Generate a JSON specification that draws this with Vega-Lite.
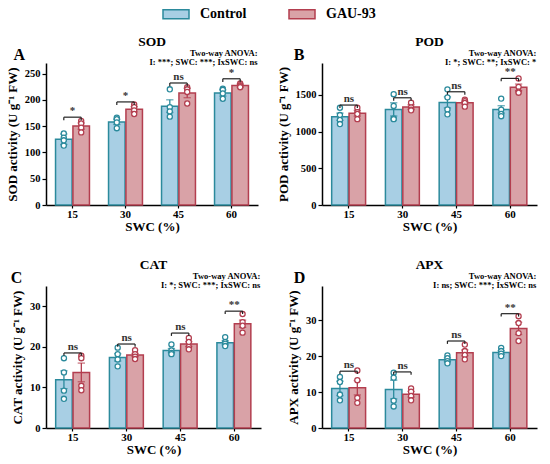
{
  "$schema": "https://vega.github.io/schema/vega-lite/v6.json",
  "padding": {"left": 6, "top": 0, "right": 4, "bottom": 4},
  "columns": 2,
  "spacing": {"row": 24, "column": 15},
  "datasets": {
    "sumA": [
      {"swc": 15, "g": "Control", "mean": 125, "lo": 115, "hi": 135},
      {"swc": 15, "g": "GAU-93", "mean": 150, "lo": 144, "hi": 156},
      {"swc": 30, "g": "Control", "mean": 158, "lo": 153, "hi": 163},
      {"swc": 30, "g": "GAU-93", "mean": 182, "lo": 177, "hi": 187},
      {"swc": 45, "g": "Control", "mean": 188, "lo": 176, "hi": 200},
      {"swc": 45, "g": "GAU-93", "mean": 213, "lo": 204, "hi": 222},
      {"swc": 60, "g": "Control", "mean": 213, "lo": 207, "hi": 219},
      {"swc": 60, "g": "GAU-93", "mean": 227, "lo": 224, "hi": 230}
    ],
    "sumB": [
      {"swc": 15, "g": "Control", "mean": 1203, "lo": 1153, "hi": 1253},
      {"swc": 15, "g": "GAU-93", "mean": 1250, "lo": 1210, "hi": 1290},
      {"swc": 30, "g": "Control", "mean": 1303, "lo": 1213, "hi": 1393},
      {"swc": 30, "g": "GAU-93", "mean": 1335, "lo": 1305, "hi": 1365},
      {"swc": 45, "g": "Control", "mean": 1398, "lo": 1323, "hi": 1473},
      {"swc": 45, "g": "GAU-93", "mean": 1393, "lo": 1373, "hi": 1413},
      {"swc": 60, "g": "Control", "mean": 1303, "lo": 1253, "hi": 1353},
      {"swc": 60, "g": "GAU-93", "mean": 1603, "lo": 1558, "hi": 1648}
    ],
    "sumC": [
      {"swc": 15, "g": "Control", "mean": 11.9, "lo": 9.7, "hi": 14.1},
      {"swc": 15, "g": "GAU-93", "mean": 13.7, "lo": 11.4, "hi": 16.0},
      {"swc": 30, "g": "Control", "mean": 17.4, "lo": 16.5, "hi": 18.3},
      {"swc": 30, "g": "GAU-93", "mean": 18.0, "lo": 17.6, "hi": 18.4},
      {"swc": 45, "g": "Control", "mean": 19.1, "lo": 18.6, "hi": 19.6},
      {"swc": 45, "g": "GAU-93", "mean": 20.7, "lo": 20.1, "hi": 21.3},
      {"swc": 60, "g": "Control", "mean": 21.0, "lo": 20.5, "hi": 21.5},
      {"swc": 60, "g": "GAU-93", "mean": 25.7, "lo": 24.8, "hi": 26.6}
    ],
    "sumD": [
      {"swc": 15, "g": "Control", "mean": 11.0, "lo": 9.0, "hi": 13.0},
      {"swc": 15, "g": "GAU-93", "mean": 11.2, "lo": 9.2, "hi": 13.2},
      {"swc": 30, "g": "Control", "mean": 10.7, "lo": 8.1, "hi": 13.3},
      {"swc": 30, "g": "GAU-93", "mean": 9.4, "lo": 8.6, "hi": 10.2},
      {"swc": 45, "g": "Control", "mean": 19.0, "lo": 18.5, "hi": 19.5},
      {"swc": 45, "g": "GAU-93", "mean": 20.9, "lo": 20.1, "hi": 21.7},
      {"swc": 60, "g": "Control", "mean": 21.0, "lo": 20.5, "hi": 21.5},
      {"swc": 60, "g": "GAU-93", "mean": 27.7, "lo": 26.0, "hi": 29.4}
    ],
    "ptA": [
      {"swc": 15, "g": "Control", "v": 136}, {"swc": 15, "g": "Control", "v": 113}, {"swc": 15, "g": "Control", "v": 128}, {"swc": 15, "g": "Control", "v": 123},
      {"swc": 15, "g": "GAU-93", "v": 160}, {"swc": 15, "g": "GAU-93", "v": 155}, {"swc": 15, "g": "GAU-93", "v": 147}, {"swc": 15, "g": "GAU-93", "v": 138},
      {"swc": 30, "g": "Control", "v": 166}, {"swc": 30, "g": "Control", "v": 163}, {"swc": 30, "g": "Control", "v": 157}, {"swc": 30, "g": "Control", "v": 146},
      {"swc": 30, "g": "GAU-93", "v": 191}, {"swc": 30, "g": "GAU-93", "v": 186}, {"swc": 30, "g": "GAU-93", "v": 180}, {"swc": 30, "g": "GAU-93", "v": 173},
      {"swc": 45, "g": "Control", "v": 220}, {"swc": 45, "g": "Control", "v": 186}, {"swc": 45, "g": "Control", "v": 178}, {"swc": 45, "g": "Control", "v": 168},
      {"swc": 45, "g": "GAU-93", "v": 224}, {"swc": 45, "g": "GAU-93", "v": 220}, {"swc": 45, "g": "GAU-93", "v": 215}, {"swc": 45, "g": "GAU-93", "v": 193},
      {"swc": 60, "g": "Control", "v": 221}, {"swc": 60, "g": "Control", "v": 219}, {"swc": 60, "g": "Control", "v": 212}, {"swc": 60, "g": "Control", "v": 202},
      {"swc": 60, "g": "GAU-93", "v": 231}, {"swc": 60, "g": "GAU-93", "v": 228}, {"swc": 60, "g": "GAU-93", "v": 226}, {"swc": 60, "g": "GAU-93", "v": 224}
    ],
    "ptB": [
      {"swc": 15, "g": "Control", "v": 1325}, {"swc": 15, "g": "Control", "v": 1226}, {"swc": 15, "g": "Control", "v": 1158}, {"swc": 15, "g": "Control", "v": 1103},
      {"swc": 15, "g": "GAU-93", "v": 1325}, {"swc": 15, "g": "GAU-93", "v": 1265}, {"swc": 15, "g": "GAU-93", "v": 1240}, {"swc": 15, "g": "GAU-93", "v": 1170},
      {"swc": 30, "g": "Control", "v": 1510}, {"swc": 30, "g": "Control", "v": 1350}, {"swc": 30, "g": "Control", "v": 1180}, {"swc": 30, "g": "Control", "v": 1170},
      {"swc": 30, "g": "GAU-93", "v": 1395}, {"swc": 30, "g": "GAU-93", "v": 1330}, {"swc": 30, "g": "GAU-93", "v": 1300}, {"swc": 30, "g": "GAU-93", "v": 1290},
      {"swc": 45, "g": "Control", "v": 1576}, {"swc": 45, "g": "Control", "v": 1467}, {"swc": 45, "g": "Control", "v": 1303}, {"swc": 45, "g": "Control", "v": 1235},
      {"swc": 45, "g": "GAU-93", "v": 1435}, {"swc": 45, "g": "GAU-93", "v": 1415}, {"swc": 45, "g": "GAU-93", "v": 1390}, {"swc": 45, "g": "GAU-93", "v": 1340},
      {"swc": 60, "g": "Control", "v": 1450}, {"swc": 60, "g": "Control", "v": 1300}, {"swc": 60, "g": "Control", "v": 1240}, {"swc": 60, "g": "Control", "v": 1210},
      {"swc": 60, "g": "GAU-93", "v": 1725}, {"swc": 60, "g": "GAU-93", "v": 1610}, {"swc": 60, "g": "GAU-93", "v": 1545}, {"swc": 60, "g": "GAU-93", "v": 1530}
    ],
    "ptC": [
      {"swc": 15, "g": "Control", "v": 17.2}, {"swc": 15, "g": "Control", "v": 13.7}, {"swc": 15, "g": "Control", "v": 9.2}, {"swc": 15, "g": "Control", "v": 7.2},
      {"swc": 15, "g": "GAU-93", "v": 17.8}, {"swc": 15, "g": "GAU-93", "v": 17.2}, {"swc": 15, "g": "GAU-93", "v": 10.4}, {"swc": 15, "g": "GAU-93", "v": 9.3},
      {"swc": 30, "g": "Control", "v": 19.8}, {"swc": 30, "g": "Control", "v": 18.2}, {"swc": 30, "g": "Control", "v": 16.9}, {"swc": 30, "g": "Control", "v": 15.2},
      {"swc": 30, "g": "GAU-93", "v": 19.2}, {"swc": 30, "g": "GAU-93", "v": 18.2}, {"swc": 30, "g": "GAU-93", "v": 17.6}, {"swc": 30, "g": "GAU-93", "v": 17.0},
      {"swc": 45, "g": "Control", "v": 20.6}, {"swc": 45, "g": "Control", "v": 19.1}, {"swc": 45, "g": "Control", "v": 18.5}, {"swc": 45, "g": "Control", "v": 18.2},
      {"swc": 45, "g": "GAU-93", "v": 22.2}, {"swc": 45, "g": "GAU-93", "v": 21.2}, {"swc": 45, "g": "GAU-93", "v": 20.0}, {"swc": 45, "g": "GAU-93", "v": 19.4},
      {"swc": 60, "g": "Control", "v": 22.4}, {"swc": 60, "g": "Control", "v": 21.2}, {"swc": 60, "g": "Control", "v": 20.8}, {"swc": 60, "g": "Control", "v": 20.2},
      {"swc": 60, "g": "GAU-93", "v": 28.1}, {"swc": 60, "g": "GAU-93", "v": 26.1}, {"swc": 60, "g": "GAU-93", "v": 25.2}, {"swc": 60, "g": "GAU-93", "v": 23.5}
    ],
    "ptD": [
      {"swc": 15, "g": "Control", "v": 14.2}, {"swc": 15, "g": "Control", "v": 12.8}, {"swc": 15, "g": "Control", "v": 9.3}, {"swc": 15, "g": "Control", "v": 7.7},
      {"swc": 15, "g": "GAU-93", "v": 16.0}, {"swc": 15, "g": "GAU-93", "v": 13.3}, {"swc": 15, "g": "GAU-93", "v": 8.4}, {"swc": 15, "g": "GAU-93", "v": 7.0},
      {"swc": 30, "g": "Control", "v": 15.4}, {"swc": 30, "g": "Control", "v": 14.0}, {"swc": 30, "g": "Control", "v": 7.6}, {"swc": 30, "g": "Control", "v": 6.0},
      {"swc": 30, "g": "GAU-93", "v": 11.0}, {"swc": 30, "g": "GAU-93", "v": 10.1}, {"swc": 30, "g": "GAU-93", "v": 8.9}, {"swc": 30, "g": "GAU-93", "v": 7.7},
      {"swc": 45, "g": "Control", "v": 20.2}, {"swc": 45, "g": "Control", "v": 19.4}, {"swc": 45, "g": "Control", "v": 18.6}, {"swc": 45, "g": "Control", "v": 18.0},
      {"swc": 45, "g": "GAU-93", "v": 23.2}, {"swc": 45, "g": "GAU-93", "v": 21.4}, {"swc": 45, "g": "GAU-93", "v": 20.3}, {"swc": 45, "g": "GAU-93", "v": 19.1},
      {"swc": 60, "g": "Control", "v": 22.3}, {"swc": 60, "g": "Control", "v": 21.4}, {"swc": 60, "g": "Control", "v": 20.7}, {"swc": 60, "g": "Control", "v": 20.0},
      {"swc": 60, "g": "GAU-93", "v": 31.1}, {"swc": 60, "g": "GAU-93", "v": 29.2}, {"swc": 60, "g": "GAU-93", "v": 26.4}, {"swc": 60, "g": "GAU-93", "v": 24.2}
    ],
    "brA": [
      {"swc": 15, "g": "Control", "top": 167, "low": 161, "lab": "*"}, {"swc": 15, "g": "GAU-93", "top": 167, "low": 161, "lab": "*"},
      {"swc": 30, "g": "Control", "top": 196, "low": 190, "lab": "*"}, {"swc": 30, "g": "GAU-93", "top": 196, "low": 190, "lab": "*"},
      {"swc": 45, "g": "Control", "top": 232, "low": 226, "lab": "ns"}, {"swc": 45, "g": "GAU-93", "top": 232, "low": 226, "lab": "ns"},
      {"swc": 60, "g": "Control", "top": 240, "low": 234, "lab": "*"}, {"swc": 60, "g": "GAU-93", "top": 240, "low": 234, "lab": "*"}
    ],
    "brB": [
      {"swc": 15, "g": "Control", "top": 1362, "low": 1322, "lab": "ns"}, {"swc": 15, "g": "GAU-93", "top": 1362, "low": 1322, "lab": "ns"},
      {"swc": 30, "g": "Control", "top": 1461, "low": 1421, "lab": "ns"}, {"swc": 30, "g": "GAU-93", "top": 1461, "low": 1421, "lab": "ns"},
      {"swc": 45, "g": "Control", "top": 1543, "low": 1503, "lab": "ns"}, {"swc": 45, "g": "GAU-93", "top": 1543, "low": 1503, "lab": "ns"},
      {"swc": 60, "g": "Control", "top": 1725, "low": 1685, "lab": "**"}, {"swc": 60, "g": "GAU-93", "top": 1725, "low": 1685, "lab": "**"}
    ],
    "brC": [
      {"swc": 15, "g": "Control", "top": 18.5, "low": 17.8, "lab": "ns"}, {"swc": 15, "g": "GAU-93", "top": 18.5, "low": 17.8, "lab": "ns"},
      {"swc": 30, "g": "Control", "top": 20.7, "low": 20.0, "lab": "ns"}, {"swc": 30, "g": "GAU-93", "top": 20.7, "low": 20.0, "lab": "ns"},
      {"swc": 45, "g": "Control", "top": 23.4, "low": 22.7, "lab": "ns"}, {"swc": 45, "g": "GAU-93", "top": 23.4, "low": 22.7, "lab": "ns"},
      {"swc": 60, "g": "Control", "top": 28.8, "low": 28.1, "lab": "**"}, {"swc": 60, "g": "GAU-93", "top": 28.8, "low": 28.1, "lab": "**"}
    ],
    "brD": [
      {"swc": 15, "g": "Control", "top": 15.8, "low": 15.0, "lab": "ns"}, {"swc": 15, "g": "GAU-93", "top": 15.8, "low": 15.0, "lab": "ns"},
      {"swc": 30, "g": "Control", "top": 15.6, "low": 14.8, "lab": "ns"}, {"swc": 30, "g": "GAU-93", "top": 15.6, "low": 14.8, "lab": "ns"},
      {"swc": 45, "g": "Control", "top": 24.2, "low": 23.4, "lab": "ns"}, {"swc": 45, "g": "GAU-93", "top": 24.2, "low": 23.4, "lab": "ns"},
      {"swc": 60, "g": "Control", "top": 31.8, "low": 31.0, "lab": "**"}, {"swc": 60, "g": "GAU-93", "top": 31.8, "low": 31.0, "lab": "**"}
    ]
  },
  "concat": [
    {
      "title": "SOD",
      "width": 212, "height": 142,
      "encoding": {"x": {"field": "swc", "type": "ordinal", "scale": {"domain": [15, 30, 45, 60], "paddingInner": 0.36, "paddingOuter": 0.18}, "axis": {"title": "SWC (%)"}}},
      "layer": [
        {"data": {"name": "sumA"}, "mark": {"type": "bar", "strokeWidth": 1.5},
         "encoding": {
           "xOffset": {"field": "g", "scale": {"domain": ["Control", "GAU-93"], "paddingInner": 0.05}},
           "y": {"field": "mean", "type": "quantitative", "scale": {"domain": [0, 270], "nice": false}, "axis": {"title": "SOD activity (U g⁻¹ FW)", "values": [0, 50, 100, 150, 200, 250], "format": "d"}},
           "fill": {"field": "g", "type": "nominal", "scale": {"domain": ["Control", "GAU-93"], "range": ["#a8cfe4", "#d9a2a7"]}, "legend": {"title": null, "orient": "none", "direction": "horizontal", "legendX": 116, "legendY": -63, "symbolType": "M-1,-0.35H1V0.35H-1Z", "symbolSize": 676, "symbolStrokeWidth": 1.5, "labelFontSize": 14, "labelFontWeight": "bold", "labelFont": "Liberation Serif", "labelColor": "#000", "labelOffset": 10, "columnPadding": 39}},
           "stroke": {"field": "g", "type": "nominal", "scale": {"domain": ["Control", "GAU-93"], "range": ["#2b8a9c", "#b33e4f"]}, "legend": {"title": null, "orient": "none", "direction": "horizontal", "legendX": 116, "legendY": -63, "symbolType": "M-1,-0.35H1V0.35H-1Z", "symbolSize": 676, "symbolStrokeWidth": 1.5, "labelFontSize": 14, "labelFontWeight": "bold", "labelFont": "Liberation Serif", "labelColor": "#000", "labelOffset": 10, "columnPadding": 39}}
         }},
        {"data": {"name": "sumA"}, "mark": {"type": "rule", "strokeWidth": 1.3},
         "encoding": {"xOffset": {"field": "g"}, "y": {"field": "lo", "type": "quantitative", "axis": {"title": "SOD activity (U g⁻¹ FW)", "values": [0, 50, 100, 150, 200, 250], "format": "d"}}, "y2": {"field": "hi"}, "stroke": {"field": "g", "type": "nominal"}}},
        {"data": {"name": "sumA"}, "mark": {"type": "tick", "filled": false, "thickness": 0.01, "strokeWidth": 1.3, "size": 6},
         "encoding": {"xOffset": {"field": "g"}, "y": {"field": "hi", "type": "quantitative", "axis": {"title": "SOD activity (U g⁻¹ FW)", "values": [0, 50, 100, 150, 200, 250], "format": "d"}}, "stroke": {"field": "g", "type": "nominal"}}},
        {"data": {"name": "sumA"}, "mark": {"type": "tick", "filled": false, "thickness": 0.01, "strokeWidth": 1.3, "size": 6},
         "encoding": {"xOffset": {"field": "g"}, "y": {"field": "lo", "type": "quantitative", "axis": {"title": "SOD activity (U g⁻¹ FW)", "values": [0, 50, 100, 150, 200, 250], "format": "d"}}, "stroke": {"field": "g", "type": "nominal"}}},
        {"data": {"name": "ptA"}, "mark": {"type": "circle", "fill": "white", "size": 26, "strokeWidth": 1.3, "opacity": 1},
         "encoding": {"xOffset": {"field": "g"}, "y": {"field": "v", "type": "quantitative", "axis": {"title": "SOD activity (U g⁻¹ FW)", "values": [0, 50, 100, 150, 200, 250], "format": "d"}}, "stroke": {"field": "g", "type": "nominal"}}},
        {"data": {"name": "brA"}, "mark": {"type": "line", "color": "#222", "strokeWidth": 1.2},
         "encoding": {"xOffset": {"field": "g"}, "y": {"field": "top", "type": "quantitative", "axis": {"title": "SOD activity (U g⁻¹ FW)", "values": [0, 50, 100, 150, 200, 250], "format": "d"}}, "detail": {"field": "swc"}}},
        {"data": {"name": "brA"}, "mark": {"type": "rule", "color": "#222", "strokeWidth": 1.2},
         "encoding": {"xOffset": {"field": "g"}, "y": {"field": "top", "type": "quantitative", "axis": {"title": "SOD activity (U g⁻¹ FW)", "values": [0, 50, 100, 150, 200, 250], "format": "d"}}, "y2": {"field": "low"}}},
        {"data": {"name": "brA"}, "transform": [{"filter": "datum.g === 'Control'"}], "mark": {"type": "text", "baseline": "bottom", "dy": -1, "fontSize": 11, "fontWeight": "bold", "color": "#333"},
         "encoding": {"y": {"field": "top", "type": "quantitative", "axis": {"title": "SOD activity (U g⁻¹ FW)", "values": [0, 50, 100, 150, 200, 250], "format": "d"}}, "text": {"field": "lab"}}},
        {"data": {"values": [{}]}, "mark": {"type": "text", "text": "A", "align": "left", "baseline": "bottom", "fontSize": 16, "fontWeight": "bold", "color": "#000", "dx": -42, "dy": 0},
         "encoding": {"x": {"datum": 15, "bandPosition": 0}, "y": {"datum": 270, "axis": {"title": "SOD activity (U g⁻¹ FW)", "values": [0, 50, 100, 150, 200, 250], "format": "d"}}}},
        {"data": {"values": [{}]}, "mark": {"type": "text", "text": ["Two-way ANOVA:", "I: ***; SWC: ***; IxSWC: ns"], "align": "right", "baseline": "bottom", "fontSize": 8.5, "lineHeight": 8.5, "fontWeight": "bold", "color": "#000", "dx": 9, "dy": -5},
         "encoding": {"x": {"datum": 60, "bandPosition": 1}, "y": {"datum": 270, "axis": {"title": "SOD activity (U g⁻¹ FW)", "values": [0, 50, 100, 150, 200, 250], "format": "d"}}}}
      ]
    },
    {
      "title": "POD",
      "width": 215, "height": 142,
      "encoding": {"x": {"field": "swc", "type": "ordinal", "scale": {"domain": [15, 30, 45, 60], "paddingInner": 0.36, "paddingOuter": 0.18}, "axis": {"title": "SWC (%)"}}},
      "layer": [
        {"data": {"name": "sumB"}, "mark": {"type": "bar", "strokeWidth": 1.5},
         "encoding": {
           "xOffset": {"field": "g", "scale": {"domain": ["Control", "GAU-93"], "paddingInner": 0.05}},
           "y": {"field": "mean", "type": "quantitative", "scale": {"domain": [0, 1935], "nice": false}, "axis": {"title": "POD activity (U g⁻¹ FW)", "values": [0, 500, 1000, 1500], "format": "d"}},
           "fill": {"field": "g", "type": "nominal"},
           "stroke": {"field": "g", "type": "nominal"}
         }},
        {"data": {"name": "sumB"}, "mark": {"type": "rule", "strokeWidth": 1.3},
         "encoding": {"xOffset": {"field": "g"}, "y": {"field": "lo", "type": "quantitative", "axis": {"title": "POD activity (U g⁻¹ FW)", "values": [0, 500, 1000, 1500], "format": "d"}}, "y2": {"field": "hi"}, "stroke": {"field": "g", "type": "nominal"}}},
        {"data": {"name": "sumB"}, "mark": {"type": "tick", "filled": false, "thickness": 0.01, "strokeWidth": 1.3, "size": 6},
         "encoding": {"xOffset": {"field": "g"}, "y": {"field": "hi", "type": "quantitative", "axis": {"title": "POD activity (U g⁻¹ FW)", "values": [0, 500, 1000, 1500], "format": "d"}}, "stroke": {"field": "g", "type": "nominal"}}},
        {"data": {"name": "sumB"}, "mark": {"type": "tick", "filled": false, "thickness": 0.01, "strokeWidth": 1.3, "size": 6},
         "encoding": {"xOffset": {"field": "g"}, "y": {"field": "lo", "type": "quantitative", "axis": {"title": "POD activity (U g⁻¹ FW)", "values": [0, 500, 1000, 1500], "format": "d"}}, "stroke": {"field": "g", "type": "nominal"}}},
        {"data": {"name": "ptB"}, "mark": {"type": "circle", "fill": "white", "size": 26, "strokeWidth": 1.3, "opacity": 1},
         "encoding": {"xOffset": {"field": "g"}, "y": {"field": "v", "type": "quantitative", "axis": {"title": "POD activity (U g⁻¹ FW)", "values": [0, 500, 1000, 1500], "format": "d"}}, "stroke": {"field": "g", "type": "nominal"}}},
        {"data": {"name": "brB"}, "mark": {"type": "line", "color": "#222", "strokeWidth": 1.2},
         "encoding": {"xOffset": {"field": "g"}, "y": {"field": "top", "type": "quantitative", "axis": {"title": "POD activity (U g⁻¹ FW)", "values": [0, 500, 1000, 1500], "format": "d"}}, "detail": {"field": "swc"}}},
        {"data": {"name": "brB"}, "mark": {"type": "rule", "color": "#222", "strokeWidth": 1.2},
         "encoding": {"xOffset": {"field": "g"}, "y": {"field": "top", "type": "quantitative", "axis": {"title": "POD activity (U g⁻¹ FW)", "values": [0, 500, 1000, 1500], "format": "d"}}, "y2": {"field": "low"}}},
        {"data": {"name": "brB"}, "transform": [{"filter": "datum.g === 'Control'"}], "mark": {"type": "text", "baseline": "bottom", "dy": -1, "fontSize": 11, "fontWeight": "bold", "color": "#333"},
         "encoding": {"y": {"field": "top", "type": "quantitative", "axis": {"title": "POD activity (U g⁻¹ FW)", "values": [0, 500, 1000, 1500], "format": "d"}}, "text": {"field": "lab"}}},
        {"data": {"values": [{}]}, "mark": {"type": "text", "text": "B", "align": "left", "baseline": "bottom", "fontSize": 16, "fontWeight": "bold", "color": "#000", "dx": -38, "dy": 0},
         "encoding": {"x": {"datum": 15, "bandPosition": 0}, "y": {"datum": 1935, "axis": {"title": "POD activity (U g⁻¹ FW)", "values": [0, 500, 1000, 1500], "format": "d"}}}},
        {"data": {"values": [{}]}, "mark": {"type": "text", "text": ["Two-way ANOVA:", "I: *; SWC: **; IxSWC: *"], "align": "right", "baseline": "bottom", "fontSize": 8.5, "lineHeight": 8.5, "fontWeight": "bold", "color": "#000", "dx": 9, "dy": -5},
         "encoding": {"x": {"datum": 60, "bandPosition": 1}, "y": {"datum": 1935, "axis": {"title": "POD activity (U g⁻¹ FW)", "values": [0, 500, 1000, 1500], "format": "d"}}}}
      ]
    },
    {
      "title": "CAT",
      "width": 215, "height": 142,
      "encoding": {"x": {"field": "swc", "type": "ordinal", "scale": {"domain": [15, 30, 45, 60], "paddingInner": 0.36, "paddingOuter": 0.18}, "axis": {"title": "SWC (%)"}}},
      "layer": [
        {"data": {"name": "sumC"}, "mark": {"type": "bar", "strokeWidth": 1.5},
         "encoding": {
           "xOffset": {"field": "g", "scale": {"domain": ["Control", "GAU-93"], "paddingInner": 0.05}},
           "y": {"field": "mean", "type": "quantitative", "scale": {"domain": [0, 35], "nice": false}, "axis": {"title": "CAT activity (U g⁻¹ FW)", "values": [0, 10, 20, 30]}},
           "fill": {"field": "g", "type": "nominal"},
           "stroke": {"field": "g", "type": "nominal"}
         }},
        {"data": {"name": "sumC"}, "mark": {"type": "rule", "strokeWidth": 1.3},
         "encoding": {"xOffset": {"field": "g"}, "y": {"field": "lo", "type": "quantitative", "axis": {"title": "CAT activity (U g⁻¹ FW)", "values": [0, 10, 20, 30]}}, "y2": {"field": "hi"}, "stroke": {"field": "g", "type": "nominal"}}},
        {"data": {"name": "sumC"}, "mark": {"type": "tick", "filled": false, "thickness": 0.01, "strokeWidth": 1.3, "size": 6},
         "encoding": {"xOffset": {"field": "g"}, "y": {"field": "hi", "type": "quantitative", "axis": {"title": "CAT activity (U g⁻¹ FW)", "values": [0, 10, 20, 30]}}, "stroke": {"field": "g", "type": "nominal"}}},
        {"data": {"name": "sumC"}, "mark": {"type": "tick", "filled": false, "thickness": 0.01, "strokeWidth": 1.3, "size": 6},
         "encoding": {"xOffset": {"field": "g"}, "y": {"field": "lo", "type": "quantitative", "axis": {"title": "CAT activity (U g⁻¹ FW)", "values": [0, 10, 20, 30]}}, "stroke": {"field": "g", "type": "nominal"}}},
        {"data": {"name": "ptC"}, "mark": {"type": "circle", "fill": "white", "size": 26, "strokeWidth": 1.3, "opacity": 1},
         "encoding": {"xOffset": {"field": "g"}, "y": {"field": "v", "type": "quantitative", "axis": {"title": "CAT activity (U g⁻¹ FW)", "values": [0, 10, 20, 30]}}, "stroke": {"field": "g", "type": "nominal"}}},
        {"data": {"name": "brC"}, "mark": {"type": "line", "color": "#222", "strokeWidth": 1.2},
         "encoding": {"xOffset": {"field": "g"}, "y": {"field": "top", "type": "quantitative", "axis": {"title": "CAT activity (U g⁻¹ FW)", "values": [0, 10, 20, 30]}}, "detail": {"field": "swc"}}},
        {"data": {"name": "brC"}, "mark": {"type": "rule", "color": "#222", "strokeWidth": 1.2},
         "encoding": {"xOffset": {"field": "g"}, "y": {"field": "top", "type": "quantitative", "axis": {"title": "CAT activity (U g⁻¹ FW)", "values": [0, 10, 20, 30]}}, "y2": {"field": "low"}}},
        {"data": {"name": "brC"}, "transform": [{"filter": "datum.g === 'Control'"}], "mark": {"type": "text", "baseline": "bottom", "dy": -1, "fontSize": 11, "fontWeight": "bold", "color": "#333"},
         "encoding": {"y": {"field": "top", "type": "quantitative", "axis": {"title": "CAT activity (U g⁻¹ FW)", "values": [0, 10, 20, 30]}}, "text": {"field": "lab"}}},
        {"data": {"values": [{}]}, "mark": {"type": "text", "text": "C", "align": "left", "baseline": "bottom", "fontSize": 16, "fontWeight": "bold", "color": "#000", "dx": -45, "dy": 0},
         "encoding": {"x": {"datum": 15, "bandPosition": 0}, "y": {"datum": 35, "axis": {"title": "CAT activity (U g⁻¹ FW)", "values": [0, 10, 20, 30]}}}},
        {"data": {"values": [{}]}, "mark": {"type": "text", "text": ["Two-way ANOVA:", "I: *; SWC: ***; IxSWC: ns"], "align": "right", "baseline": "bottom", "fontSize": 8.5, "lineHeight": 8.5, "fontWeight": "bold", "color": "#000", "dx": 9, "dy": -5},
         "encoding": {"x": {"datum": 60, "bandPosition": 1}, "y": {"datum": 35, "axis": {"title": "CAT activity (U g⁻¹ FW)", "values": [0, 10, 20, 30]}}}}
      ]
    },
    {
      "title": "APX",
      "width": 215, "height": 142,
      "encoding": {"x": {"field": "swc", "type": "ordinal", "scale": {"domain": [15, 30, 45, 60], "paddingInner": 0.36, "paddingOuter": 0.18}, "axis": {"title": "SWC (%)"}}},
      "layer": [
        {"data": {"name": "sumD"}, "mark": {"type": "bar", "strokeWidth": 1.5},
         "encoding": {
           "xOffset": {"field": "g", "scale": {"domain": ["Control", "GAU-93"], "paddingInner": 0.05}},
           "y": {"field": "mean", "type": "quantitative", "scale": {"domain": [0, 39.5], "nice": false}, "axis": {"title": "APX activity (U g⁻¹ FW)", "values": [0, 10, 20, 30]}},
           "fill": {"field": "g", "type": "nominal"},
           "stroke": {"field": "g", "type": "nominal"}
         }},
        {"data": {"name": "sumD"}, "mark": {"type": "rule", "strokeWidth": 1.3},
         "encoding": {"xOffset": {"field": "g"}, "y": {"field": "lo", "type": "quantitative", "axis": {"title": "APX activity (U g⁻¹ FW)", "values": [0, 10, 20, 30]}}, "y2": {"field": "hi"}, "stroke": {"field": "g", "type": "nominal"}}},
        {"data": {"name": "sumD"}, "mark": {"type": "tick", "filled": false, "thickness": 0.01, "strokeWidth": 1.3, "size": 6},
         "encoding": {"xOffset": {"field": "g"}, "y": {"field": "hi", "type": "quantitative", "axis": {"title": "APX activity (U g⁻¹ FW)", "values": [0, 10, 20, 30]}}, "stroke": {"field": "g", "type": "nominal"}}},
        {"data": {"name": "sumD"}, "mark": {"type": "tick", "filled": false, "thickness": 0.01, "strokeWidth": 1.3, "size": 6},
         "encoding": {"xOffset": {"field": "g"}, "y": {"field": "lo", "type": "quantitative", "axis": {"title": "APX activity (U g⁻¹ FW)", "values": [0, 10, 20, 30]}}, "stroke": {"field": "g", "type": "nominal"}}},
        {"data": {"name": "ptD"}, "mark": {"type": "circle", "fill": "white", "size": 26, "strokeWidth": 1.3, "opacity": 1},
         "encoding": {"xOffset": {"field": "g"}, "y": {"field": "v", "type": "quantitative", "axis": {"title": "APX activity (U g⁻¹ FW)", "values": [0, 10, 20, 30]}}, "stroke": {"field": "g", "type": "nominal"}}},
        {"data": {"name": "brD"}, "mark": {"type": "line", "color": "#222", "strokeWidth": 1.2},
         "encoding": {"xOffset": {"field": "g"}, "y": {"field": "top", "type": "quantitative", "axis": {"title": "APX activity (U g⁻¹ FW)", "values": [0, 10, 20, 30]}}, "detail": {"field": "swc"}}},
        {"data": {"name": "brD"}, "mark": {"type": "rule", "color": "#222", "strokeWidth": 1.2},
         "encoding": {"xOffset": {"field": "g"}, "y": {"field": "top", "type": "quantitative", "axis": {"title": "APX activity (U g⁻¹ FW)", "values": [0, 10, 20, 30]}}, "y2": {"field": "low"}}},
        {"data": {"name": "brD"}, "transform": [{"filter": "datum.g === 'Control'"}], "mark": {"type": "text", "baseline": "bottom", "dy": -1, "fontSize": 11, "fontWeight": "bold", "color": "#333"},
         "encoding": {"y": {"field": "top", "type": "quantitative", "axis": {"title": "APX activity (U g⁻¹ FW)", "values": [0, 10, 20, 30]}}, "text": {"field": "lab"}}},
        {"data": {"values": [{}]}, "mark": {"type": "text", "text": "D", "align": "left", "baseline": "bottom", "fontSize": 16, "fontWeight": "bold", "color": "#000", "dx": -38, "dy": 0},
         "encoding": {"x": {"datum": 15, "bandPosition": 0}, "y": {"datum": 39.5, "axis": {"title": "APX activity (U g⁻¹ FW)", "values": [0, 10, 20, 30]}}}},
        {"data": {"values": [{}]}, "mark": {"type": "text", "text": ["Two-way ANOVA:", "I: ns; SWC: ***; IxSWC: ns"], "align": "right", "baseline": "bottom", "fontSize": 8.5, "lineHeight": 8.5, "fontWeight": "bold", "color": "#000", "dx": 9, "dy": -5},
         "encoding": {"x": {"datum": 60, "bandPosition": 1}, "y": {"datum": 39.5, "axis": {"title": "APX activity (U g⁻¹ FW)", "values": [0, 10, 20, 30]}}}}
      ]
    }
  ],
  "resolve": {"scale": {"fill": "shared", "stroke": "shared"}, "legend": {"fill": "shared", "stroke": "shared"}},
  "config": {
    "font": "Liberation Serif",
    "view": {"stroke": null},
    "axis": {"grid": false, "domainColor": "#000", "domainWidth": 1.5, "tickColor": "#000", "tickWidth": 1.2, "tickSize": 4, "labelColor": "#000", "labelFont": "Liberation Serif", "labelFontSize": 11, "labelFontWeight": "bold", "titleFont": "Liberation Serif", "titleFontSize": 13, "titleFontWeight": "bold", "titleColor": "#000", "labelPadding": 2, "labelOverlap": false},
    "axisY": {"titlePadding": 5, "labelFontSize": 10.5},
    "axisX": {"titlePadding": 1, "labelPadding": 0, "labelAngle": 0, "tickSize": 3},
    "title": {"font": "Liberation Serif", "fontSize": 13.5, "fontWeight": "bold", "color": "#000", "offset": -1, "frame": "group"}
  }
}
